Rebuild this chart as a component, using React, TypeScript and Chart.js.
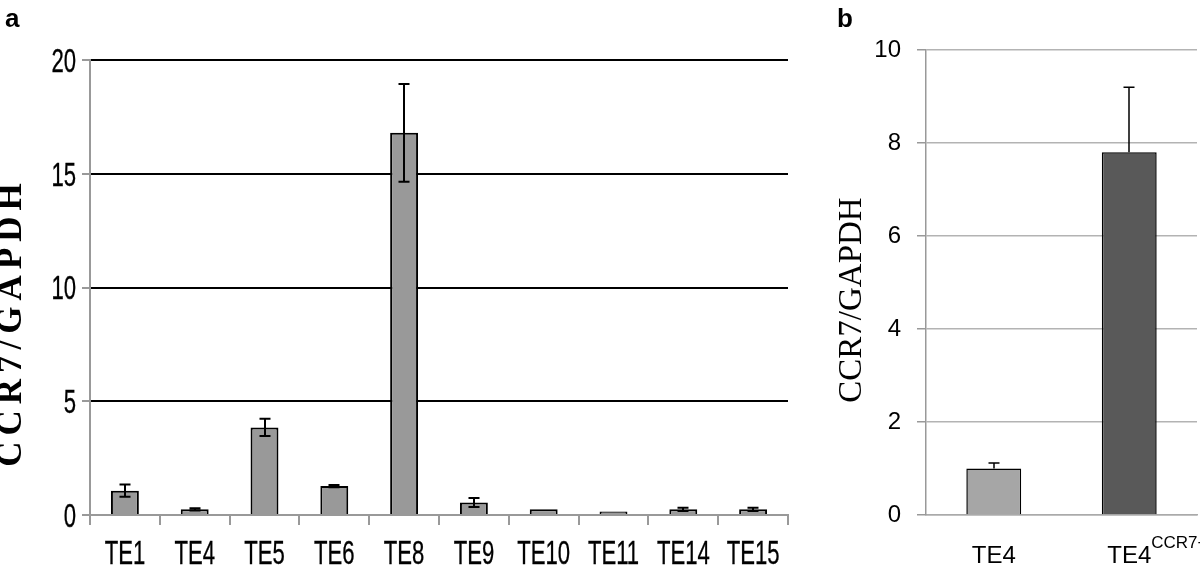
import React, { useEffect, useRef } from "react";
import { Chart, registerables } from "chart.js";
Chart.register(...registerables);

// ---------- Data ----------
const categoriesA = ["TE1", "TE4", "TE5", "TE6", "TE8", "TE9", "TE10", "TE11", "TE14", "TE15"];
const valuesA = [1.07, 0.25, 3.85, 1.27, 16.8, 0.55, 0.25, 0.15, 0.25, 0.25];
const errorsA = [0.27, 0.05, 0.38, 0.05, 2.15, 0.2, 0, 0, 0.07, 0.07];
const yTicksA = [0, 5, 10, 15, 20];

const categoriesB = ["TE4", "TE4"];
const superscriptsB = ["", "CCR7+"];
const valuesB = [1.0, 7.8];
const errorsB = [0.12, 1.4];
const colorsB = ["#a6a6a6", "#595959"];
const yTicksB = [0, 2, 4, 6, 8, 10];

const yTitle = "CCR7/GAPDH";
const panelLetters = ["a", "b"];

const SANS = "'Liberation Sans', Arial, sans-serif";
const SERIF = "'Liberation Serif', 'Times New Roman', serif";

// ---------- Plugins ----------
const errorBarPlugin = {
  id: "errorBars",
  afterDatasetsDraw(chart: any, _args: any, opts: any) {
    const meta = chart.getDatasetMeta(0);
    const y = chart.scales.y;
    const ctx = chart.ctx;
    const data = chart.data.datasets[0].data;
    ctx.save();
    ctx.strokeStyle = opts.color || "#000";
    ctx.lineWidth = opts.lineWidth || 2;
    const cap = opts.capWidth || 10;
    meta.data.forEach((bar: any, i: number) => {
      const e = opts.errors[i];
      if (!e) return;
      const v = data[i];
      const x = Math.round(bar.x);
      const yTop = y.getPixelForValue(v + e);
      const yBot = opts.upOnly ? y.getPixelForValue(v) : y.getPixelForValue(v - e);
      ctx.beginPath();
      ctx.moveTo(x, yTop);
      ctx.lineTo(x, yBot);
      ctx.moveTo(x - cap / 2, yTop);
      ctx.lineTo(x + cap / 2, yTop);
      if (!opts.upOnly) {
        ctx.moveTo(x - cap / 2, yBot);
        ctx.lineTo(x + cap / 2, yBot);
      }
      ctx.stroke();
    });
    ctx.restore();
  },
};

// condensed tick labels (drawn with a horizontal squeeze, like Arial Narrow)
const narrowTicksPlugin = {
  id: "narrowTicks",
  afterDraw(chart: any, _args: any, opts: any) {
    if (!opts || !opts.enabled) return;
    const ctx = chart.ctx;
    const size = opts.size;
    const sx = opts.squeeze;
    const capH = size * 0.716;
    ctx.save();
    ctx.fillStyle = "#000";
    ctx.strokeStyle = "#000";
    ctx.lineWidth = 0.35;
    ctx.font = `${size}px ${SANS}`;
    ctx.textBaseline = "alphabetic";
    const ys = chart.scales.y;
    ys.ticks.forEach((t: any) => {
      const py = ys.getPixelForValue(t.value);
      ctx.save();
      ctx.translate(opts.yRight, py + capH / 2);
      ctx.scale(sx, 1);
      ctx.textAlign = "right";
      ctx.fillText(String(t.value), 0, 0);
      ctx.strokeText(String(t.value), 0, 0);
      ctx.restore();
    });
    const xs = chart.scales.x;
    chart.data.labels.forEach((lab: string, i: number) => {
      const px = xs.getPixelForTick(i);
      ctx.save();
      ctx.translate(px, opts.xBaseline);
      ctx.scale(sx, 1);
      ctx.textAlign = "center";
      ctx.fillText(lab, 0, 0);
      ctx.strokeText(lab, 0, 0);
      ctx.restore();
    });
    ctx.restore();
  },
};

const panelTextPlugin = {
  id: "panelText",
  afterDraw(chart: any, _args: any, opts: any) {
    const ctx = chart.ctx;
    ctx.save();
    ctx.fillStyle = "#000";
    ctx.font = `bold 26px ${SANS}`;
    ctx.textAlign = "left";
    ctx.textBaseline = "alphabetic";
    ctx.fillText(opts.letter, opts.letterX, opts.letterY);
    ctx.translate(opts.titleX, opts.titleY);
    ctx.rotate(-Math.PI / 2);
    ctx.font = opts.titleFont;
    const sp = opts.letterSpacing || 0;
    (ctx as any).letterSpacing = `${sp}px`;
    const w = ctx.measureText(opts.title).width;
    const realW = sp ? w - sp : w;
    ctx.textAlign = "left";
    ctx.textBaseline = "middle";
    ctx.fillText(opts.title, -realW / 2, 0);
    (ctx as any).letterSpacing = "0px";
    ctx.restore();

    if (opts.superscripts) {
      const xs = chart.scales.x;
      ctx.save();
      ctx.fillStyle = "#000";
      opts.superscripts.forEach((s: string, i: number) => {
        if (!s) return;
        ctx.font = opts.baseFont;
        const bw = ctx.measureText(chart.data.labels[i]).width;
        const x = xs.getPixelForTick(i) + bw / 2;
        ctx.font = opts.supFont;
        ctx.textAlign = "left";
        ctx.textBaseline = "top";
        ctx.fillText(s, x, opts.supY);
      });
      ctx.restore();
    }
  },
};

function PanelA() {
  const ref = useRef<HTMLCanvasElement>(null);
  useEffect(() => {
    const chart = new Chart(ref.current as HTMLCanvasElement, {
      type: "bar",
      data: {
        labels: categoriesA,
        datasets: [
          {
            data: valuesA,
            backgroundColor: "#999999",
            borderColor: "#000",
            borderWidth: 2,
            borderSkipped: "bottom",
            barPercentage: 0.4,
            categoryPercentage: 1,
          },
        ],
      },
      plugins: [errorBarPlugin, narrowTicksPlugin, panelTextPlugin],
      options: {
        responsive: false,
        animation: false,
        layout: { padding: { top: 60, right: 12, left: 0, bottom: 0 } },
        plugins: {
          legend: { display: false },
          tooltip: { enabled: false },
          errorBars: { errors: errorsA, lineWidth: 2, capWidth: 11, color: "#000" },
          narrowTicks: { enabled: true, size: 33, squeeze: 0.67, yRight: 76, xBaseline: 564 },
          panelText: {
            letter: panelLetters[0],
            letterX: 5,
            letterY: 27,
            title: yTitle,
            titleX: 12,
            titleY: 325,
            titleFont: `bold 35px ${SERIF}`,
            letterSpacing: 6,
          },
        } as any,
        scales: {
          x: {
            grid: {
              offset: true,
              drawOnChartArea: false,
              drawTicks: true,
              tickLength: 10,
              tickColor: "#999",
              lineWidth: 2,
            },
            border: { color: "#999", width: 2 },
            ticks: { display: false, autoSkip: false },
            afterFit: (s: any) => {
              s.height = 58;
            },
          },
          y: {
            min: 0,
            max: 20,
            afterBuildTicks: (s: any) => {
              s.ticks = yTicksA.map((v) => ({ value: v }));
            },
            grid: {
              color: (c: any) => (c.tick && c.tick.value === 0 ? "rgba(0,0,0,0)" : "#000"),
              lineWidth: 2,
              tickLength: 8,
              tickColor: "#999",
            },
            border: { color: "#999", width: 2 },
            ticks: { display: false },
            afterFit: (s: any) => {
              s.width = 90;
            },
          },
        },
      } as any,
    });
    return () => chart.destroy();
  }, []);
  return <canvas ref={ref} width={800} height={573} style={{ position: "absolute", left: 0, top: 0, width: 800, height: 573 }} />;
}

function PanelB() {
  const ref = useRef<HTMLCanvasElement>(null);
  useEffect(() => {
    const chart = new Chart(ref.current as HTMLCanvasElement, {
      type: "bar",
      data: {
        labels: categoriesB,
        datasets: [
          {
            data: valuesB,
            backgroundColor: colorsB,
            borderColor: "#000",
            borderWidth: 1.5,
            borderSkipped: "bottom",
            barPercentage: 0.405,
            categoryPercentage: 1,
          },
        ],
      },
      plugins: [errorBarPlugin, panelTextPlugin],
      options: {
        responsive: false,
        animation: false,
        layout: { padding: { top: 50, right: 3, left: 0, bottom: 0 } },
        plugins: {
          legend: { display: false },
          tooltip: { enabled: false },
          errorBars: { errors: errorsB, lineWidth: 1.5, capWidth: 11, color: "#000", upOnly: true },
          panelText: {
            letter: panelLetters[1],
            letterX: 17,
            letterY: 27,
            title: yTitle,
            titleX: 32,
            titleY: 300,
            titleFont: `33px ${SERIF}`,
            letterSpacing: 0,
            superscripts: superscriptsB,
            baseFont: `24px ${SANS}`,
            supFont: `17px ${SANS}`,
            supY: 535,
          },
        } as any,
        scales: {
          x: {
            grid: { display: false },
            border: { color: "#aaa", width: 1.5 },
            ticks: {
              font: { family: SANS, size: 24 },
              color: "#000",
              padding: 19,
              maxRotation: 0,
              autoSkip: false,
            },
            afterFit: (s: any) => {
              s.height = 58;
            },
          },
          y: {
            min: 0,
            max: 10,
            afterBuildTicks: (s: any) => {
              s.ticks = yTicksB.map((v) => ({ value: v }));
            },
            grid: {
              color: "#b3b3b3",
              lineWidth: 1.5,
              tickLength: 9,
              tickColor: "#999",
            },
            border: { color: "#999", width: 1.5 },
            ticks: {
              font: { family: SANS, size: 24 },
              color: "#000",
              padding: 16,
            },
            afterFit: (s: any) => {
              s.width = 106;
            },
          },
        },
      } as any,
    });
    return () => chart.destroy();
  }, []);
  return <canvas ref={ref} width={380} height={573} style={{ position: "absolute", left: 820, top: 0, width: 380, height: 573 }} />;
}

export default function App() {
  return (
    <div style={{ position: "fixed", left: 0, top: 0, width: 1200, height: 573, background: "#fff" }}>
      <PanelA />
      <PanelB />
    </div>
  );
}
